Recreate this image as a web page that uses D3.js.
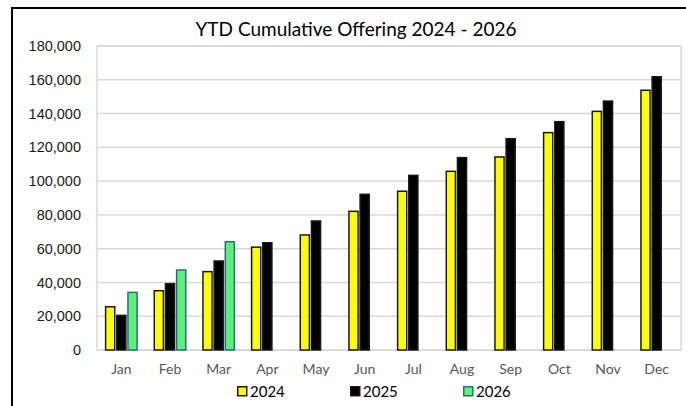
<!DOCTYPE html>
<html><head><meta charset="utf-8">
<script src="https://cdn.jsdelivr.net/npm/d3@7/dist/d3.min.js"></script>
<style>body{margin:0;background:#fff}svg{display:block}</style>
</head><body>
<svg id="c" width="686" height="406"></svg>
<script>
const months = ["Jan","Feb","Mar","Apr","May","Jun","Jul","Aug","Sep","Oct","Nov","Dec"];
const seriesNames = ["2024","2025","2026"];
const v2024 = [25600,35100,46400,60900,68100,82100,94000,105800,114300,128700,141300,153800];
const v2025 = [20500,39300,52700,63500,76400,92200,103400,113900,125100,135200,147400,161800];
const v2026 = [34100,47400,64100,null,null,null,null,null,null,null,null,null];
const yTicks = [0,20000,40000,60000,80000,100000,120000,140000,160000,180000];
const title = "YTD Cumulative Offering 2024 - 2026";

const fills = ["#ffff00","#000000","#5cf076"];
const strokes = ["#1a1a1a","#1a1a1a","#2b6a8a"];
const allSeries = [v2024, v2025, v2026];

const svg = d3.select("#c");
// frame lines
svg.append("line").attr("x1",12).attr("x2",686).attr("y1",8).attr("y2",8).attr("stroke","#000").attr("stroke-width",2);
svg.append("line").attr("x1",12).attr("x2",12).attr("y1",7).attr("y2",406).attr("stroke","#000").attr("stroke-width",2);

const L=97, R=681, T=46, B=350;
const x = d3.scaleBand().domain(months).range([L,R]).paddingInner(0).paddingOuter(0);
const y = d3.scaleLinear().domain([0,180000]).range([B,T]);
const xs = d3.scaleBand().domain(seriesNames).range([0, x.bandwidth()*0.7]).padding(0.05);
const off = x.bandwidth()*0.15;

// gridlines
svg.append("g").selectAll("line").data(yTicks).join("line")
  .attr("x1",L).attr("x2",R).attr("y1",d=>y(d)).attr("y2",d=>y(d))
  .attr("stroke","#d9d9d9").attr("stroke-width",1.5);
// plot border
svg.append("rect").attr("x",L).attr("y",T).attr("width",R-L).attr("height",B-T)
  .attr("fill","none").attr("stroke","#d9d9d9").attr("stroke-width",1.5);

// y axis
const yAxis = d3.axisLeft(y).tickValues(yTicks).tickFormat(d3.format(",")).tickSize(0).tickPadding(16);
const ga = svg.append("g").attr("transform",`translate(${L},0)`).call(yAxis);
ga.select(".domain").remove();
ga.selectAll("text").attr("font-family","Liberation Sans, Arial, sans-serif").attr("font-size",14.5).attr("fill","#1a1a1a");

// x axis
const xAxis = d3.axisBottom(x).tickSize(0).tickPadding(14);
const gx = svg.append("g").attr("transform",`translate(0,${B})`).call(xAxis);
gx.select(".domain").remove();
gx.selectAll("text").attr("font-family","Lato, sans-serif").attr("font-size",14).attr("fill","#595959");

// bars
seriesNames.forEach((s,i)=>{
  svg.append("g").selectAll("rect").data(months.map((m,j)=>({m,v:allSeries[i][j]})).filter(d=>d.v!=null)).join("rect")
    .attr("x",d=>x(d.m)+off+xs(s)+0.75)
    .attr("y",d=>y(d.v))
    .attr("width",xs.bandwidth()-1.5)
    .attr("height",d=>B-y(d.v))
    .attr("fill",fills[i]).attr("stroke",strokes[i]).attr("stroke-width",1.5);
});

// title
svg.append("text").attr("x",356).attr("y",36).attr("text-anchor","middle")
  .attr("font-family","Lato, sans-serif").attr("font-size",19).attr("fill","#000").text(title);

// legend
const lx = d3.scalePoint().domain(seriesNames).range([237,463]);
const lg = svg.append("g").selectAll("g").data(seriesNames).join("g")
  .attr("transform",d=>`translate(${lx(d)},386)`);
lg.append("rect").attr("width",9).attr("height",9).attr("x",0.75).attr("y",0.75)
  .attr("fill",(d,i)=>fills[i]).attr("stroke",(d,i)=>strokes[i]).attr("stroke-width",1.5);
lg.append("text").attr("x",13).attr("y",10.5).attr("font-family","Lato, sans-serif").attr("font-size",15)
  .attr("fill","#000").text(d=>d);
</script>
</body></html>
